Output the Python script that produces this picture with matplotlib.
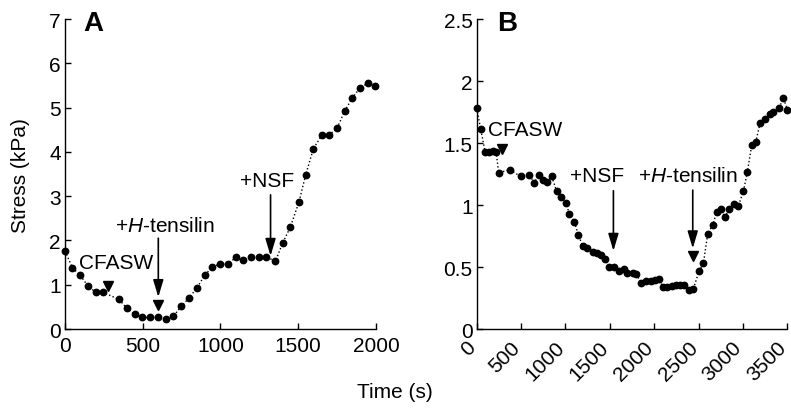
import matplotlib

matplotlib.use("Agg")

import matplotlib.pyplot as plt
from matplotlib.transforms import ScaledTranslation

plt.rcParams["font.family"] = ["Liberation Sans", "DejaVu Sans"]
plt.rcParams["mathtext.fontset"] = "custom"
plt.rcParams["mathtext.it"] = "Liberation Sans:italic"
plt.rcParams["mathtext.rm"] = "Liberation Sans"

# Panel A: stress relaxation / recovery (time in s, stress in kPa)
time_a = [0, 48, 96, 148, 197, 242, 347, 397, 448, 497, 549, 600, 647, 697,
          748, 797, 847, 898, 947, 997, 1048, 1098, 1147, 1198, 1245, 1295,
          1353, 1400, 1449, 1505, 1548, 1597, 1653, 1700, 1749, 1799, 1848,
          1899, 1949, 1994]
stress_a = [1.76, 1.38, 1.22, 0.97, 0.83, 0.83, 0.67, 0.47, 0.33, 0.26, 0.26,
            0.28, 0.22, 0.29, 0.51, 0.70, 0.92, 1.21, 1.40, 1.47, 1.46, 1.62,
            1.56, 1.62, 1.62, 1.63, 1.53, 1.94, 2.30, 2.87, 3.48, 4.07, 4.38,
            4.39, 4.53, 4.92, 5.22, 5.45, 5.55, 5.49]

# Panel B
time_b = [0, 45, 94, 139, 180, 218, 248, 372, 496, 590, 649, 699, 744, 793,
          845, 901, 952, 1003, 1044, 1100, 1145, 1195, 1247, 1307, 1359, 1401,
          1450, 1495, 1551, 1607, 1655, 1698, 1758, 1800, 1848, 1908, 1960,
          2010, 2055, 2096, 2141, 2197, 2246, 2291, 2340, 2393, 2441, 2506,
          2554, 2603, 2660, 2705, 2750, 2798, 2843, 2900, 2948, 3005, 3050,
          3099, 3144, 3193, 3249, 3306, 3343, 3404, 3456, 3500]
stress_b = [1.78, 1.61, 1.43, 1.43, 1.435, 1.43, 1.26, 1.285, 1.23, 1.245,
            1.18, 1.245, 1.20, 1.185, 1.23, 1.11, 1.065, 1.02, 0.93, 0.865,
            0.76, 0.667, 0.656, 0.623, 0.61, 0.597, 0.565, 0.50, 0.50, 0.47,
            0.485, 0.45, 0.455, 0.445, 0.375, 0.39, 0.385, 0.395, 0.40, 0.341,
            0.341, 0.35, 0.355, 0.355, 0.355, 0.315, 0.323, 0.47, 0.53, 0.77,
            0.84, 0.946, 0.97, 0.90, 0.97, 1.01, 0.995, 1.11, 1.27, 1.485,
            1.51, 1.66, 1.69, 1.73, 1.75, 1.78, 1.86, 1.77]

xticks_a = [0, 500, 1000, 1500, 2000]
yticks_a = [0, 1, 2, 3, 4, 5, 6, 7]
xticks_b = [0, 500, 1000, 1500, 2000, 2500, 3000, 3500]
yticks_b = [0, 0.5, 1, 1.5, 2, 2.5]
ylabels_b = ["0", "0.5", "1", "1.5", "2", "2.5"]

FS = 15
H_TENS = "+$H$-tensilin"


def style_axis(ax):
    for side in ("top", "right"):
        ax.spines[side].set_visible(False)
    for side in ("left", "bottom"):
        ax.spines[side].set_linewidth(1.0)
    ax.tick_params(direction="in", length=4, width=1.0, labelsize=FS)
    ax.tick_params(axis="y", pad=3)
    ax.tick_params(axis="x", pad=5)


def draw_series(ax, t, s):
    ax.plot(t, s, linestyle=":", color="black", linewidth=1.0,
            marker="o", markersize=4.6, markerfacecolor="black",
            markeredgecolor="black", clip_on=False, zorder=3)


def arrow(ax, x, y_top, y_tip):
    ax.annotate("", xy=(x, y_tip), xytext=(x, y_top),
                arrowprops=dict(arrowstyle="-|>,head_length=0.8,head_width=0.24",
                                color="black", linewidth=1.2, shrinkA=0, shrinkB=0,
                                mutation_scale=13))


def triangle(ax, x, y):
    ax.plot([x], [y], marker="v", markersize=7, color="black", linestyle="none",
            zorder=4)


fig = plt.figure(figsize=(7.91, 4.10), dpi=100)
ax_a = fig.add_axes([0.0822, 0.1951, 0.3931, 0.7561])
ax_b = fig.add_axes([0.6027, 0.1951, 0.3927, 0.7561])

# ---- panel A
style_axis(ax_a)
draw_series(ax_a, time_a, stress_a)
ax_a.set_xlim(0, 2000)
ax_a.set_ylim(0, 7)
ax_a.set_xticks(xticks_a)
ax_a.set_yticks(yticks_a)

ax_a.text(90, 1.50, "CFASW", fontsize=FS, ha="left", va="center")
triangle(ax_a, 278, 0.98)
ax_a.text(643, 2.33, H_TENS, fontsize=FS, ha="center", va="center")
arrow(ax_a, 600, 2.05, 0.72)
triangle(ax_a, 600, 0.55)
ax_a.text(1297, 3.35, "+NSF", fontsize=FS, ha="center", va="center")
arrow(ax_a, 1322, 3.03, 1.65)

# ---- panel B
style_axis(ax_b)
draw_series(ax_b, time_b, stress_b)
ax_b.set_xlim(0, 3500)
ax_b.set_ylim(0, 2.5)
ax_b.set_xticks(xticks_b)
ax_b.set_yticks(yticks_b)
ax_b.set_yticklabels(ylabels_b)
shift = ScaledTranslation(-4 / 100, -8 / 100, fig.dpi_scale_trans)
for lab in ax_b.get_xticklabels():
    lab.set_rotation(45)
    lab.set_ha("right")
    lab.set_va("center")
    lab.set_rotation_mode("anchor")
    lab.set_transform(lab.get_transform() + shift)

ax_b.text(122, 1.61, "CFASW", fontsize=FS, ha="left", va="center")
triangle(ax_b, 282, 1.455)
ax_b.text(1352, 1.235, "+NSF", fontsize=FS, ha="center", va="center")
arrow(ax_b, 1540, 1.115, 0.63)
ax_b.text(2381, 1.235, H_TENS, fontsize=FS, ha="center", va="center")
arrow(ax_b, 2434, 1.12, 0.65)
triangle(ax_b, 2434, 0.59)

# ---- panel letters and shared labels
fig.text(83 / 791, 1 - 11 / 410, "A", fontsize=20, fontweight="bold", ha="left", va="top")
fig.text(497 / 791, 1 - 11 / 410, "B", fontsize=20, fontweight="bold", ha="left", va="top")
fig.text(21 / 791, 1 - 176 / 410, "Stress (kPa)", fontsize=FS, rotation=90,
         ha="center", va="center")
fig.text(395 / 791, 1 - 393 / 410, "Time (s)", fontsize=FS, ha="center", va="center")

fig.savefig("out.png", dpi=100)
plt.close(fig)
